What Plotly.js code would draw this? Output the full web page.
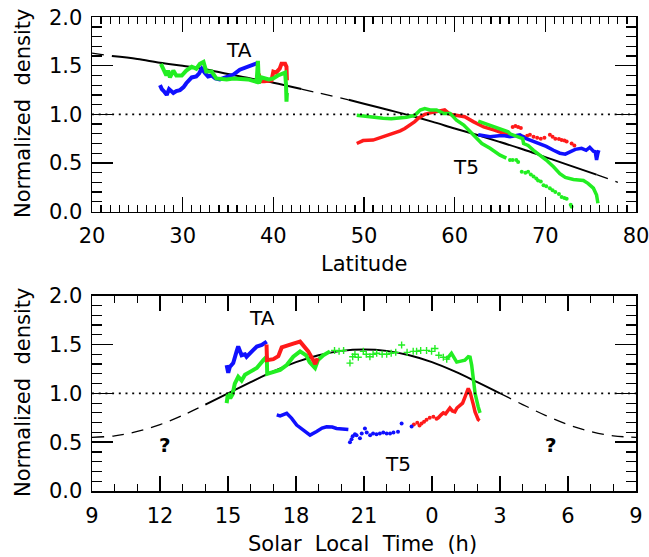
<!DOCTYPE html>
<html>
<head>
<meta charset="utf-8">
<script src="https://cdn.plot.ly/plotly-3.0.1.min.js"></script>
<style>html,body{margin:0;padding:0;background:#fff}</style>
</head>
<body>
<div id="chart" style="width:649px;height:557px"></div>
<script>
// ---------- Upper panel: density vs latitude ----------
// TA pass
const taBlueLat  = [27.5, 27.7, 28.0, 28.24, 28.5, 28.97, 29.3, 29.7, 30.1, 30.4, 31.0, 31.5, 31.8, 32.1, 32.5, 32.8, 33.2, 33.6, 34.1, 34.85, 35.6, 36.3, 37.1, 37.8, 38.3];
const taBlueVal  = [1.30, 1.26, 1.23, 1.20, 1.26, 1.22, 1.24, 1.25, 1.28, 1.32, 1.38, 1.39, 1.42, 1.47, 1.42, 1.39, 1.40, 1.37, 1.36, 1.39, 1.41, 1.46, 1.49, 1.51, 1.53];
const taGreenLat = [27.6, 27.9, 28.2, 28.4, 28.6, 28.97, 29.3, 29.9, 30.4, 31.0, 31.5, 31.9, 32.3, 32.6, 33.2, 33.7, 34.85, 35.6, 36.3, 37.2, 38.16, 38.3, 38.4, 38.7, 39.5, 40.0, 40.5, 41.0, 41.3, 41.4, 41.45, 41.5];
const taGreenVal = [1.52, 1.45, 1.40, 1.45, 1.38, 1.45, 1.40, 1.40, 1.45, 1.49, 1.47, 1.52, 1.54, 1.44, 1.44, 1.37, 1.36, 1.37, 1.37, 1.36, 1.335, 1.55, 1.32, 1.38, 1.36, 1.37, 1.40, 1.42, 1.43, 1.30, 1.13, 1.22];
const taRedLat   = [38.4, 38.45, 39.0, 39.8, 40.0, 40.3, 40.7, 40.9, 41.3, 41.45, 41.5];
const taRedVal   = [1.42, 1.34, 1.34, 1.35, 1.44, 1.43, 1.47, 1.52, 1.52, 1.49, 1.35];

// T5 pass
const t5RedLat   = [49.2, 49.9, 51.0, 52.1, 53.2, 54.0, 54.5, 55.1, 55.6, 56.0, 56.7, 57.3, 58.0, 58.9, 59.5, 60.2, 61.1, 62.05, 63.2, 64.3, 65.2, 65.7, 66.5];
const t5RedVal   = [0.70, 0.73, 0.735, 0.77, 0.80, 0.83, 0.855, 0.89, 0.925, 0.96, 1.00, 1.015, 1.03, 1.045, 1.00, 0.99, 0.975, 0.925, 0.87, 0.84, 0.81, 0.80, 0.77];
const t5RedDotLat = [66.4, 66.7, 67.0, 67.3, 67.6, 68.0, 68.3, 68.7, 69.1, 69.5, 69.9, 70.5, 70.8, 71.1, 71.5, 71.8, 72.1, 72.35, 72.9, 73.2];
const t5RedDotVal = [0.87, 0.88, 0.87, 0.86, 0.77, 0.78, 0.79, 0.77, 0.76, 0.75, 0.76, 0.79, 0.77, 0.75, 0.745, 0.735, 0.73, 0.72, 0.70, 0.68];
const t5GreenLat = [49.2, 50.0, 50.7, 51.5, 52.1, 53.0, 53.6, 54.7, 55.6, 56.2, 56.7, 57.3, 58.0, 58.75, 59.5, 60.2, 61.0, 61.7, 62.2, 63.0, 63.9, 65.0, 65.7];
const t5GreenVal = [0.99, 0.98, 0.97, 0.965, 0.96, 0.955, 0.96, 0.97, 0.99, 1.045, 1.06, 1.045, 1.045, 1.01, 1.01, 0.94, 0.89, 0.82, 0.77, 0.70, 0.65, 0.58, 0.55];
const t5GreenDotLat = [66.1, 66.4, 66.8, 67.0, 67.4, 67.8, 68.1, 68.4, 68.7, 69.0, 69.2, 69.5, 69.8, 70.1, 70.5, 70.8, 71.1, 71.5, 71.8, 72.1, 72.35, 72.8, 72.9];
const t5GreenDotVal = [0.53, 0.53, 0.53, 0.51, 0.41, 0.40, 0.41, 0.38, 0.36, 0.34, 0.32, 0.31, 0.27, 0.26, 0.24, 0.22, 0.20, 0.18, 0.15, 0.14, 0.13, 0.07, 0.05];
const t5GreenUpLat = [62.6, 63.9, 65.0, 65.9, 66.1, 67.0, 67.5, 67.6, 68.1, 68.7, 69.4, 70.1, 70.9, 71.6, 72.2, 73.1, 74.2, 74.7, 75.3, 75.65, 75.8];
const t5GreenUpVal = [0.93, 0.89, 0.855, 0.82, 0.80, 0.77, 0.75, 0.70, 0.68, 0.63, 0.58, 0.53, 0.46, 0.39, 0.35, 0.33, 0.32, 0.29, 0.24, 0.17, 0.085];
const t5BlueLat  = [62.6, 63.2, 63.9, 64.9, 65.5, 66.1, 66.7, 67.2, 67.9, 68.7, 69.4, 70.1, 70.9, 71.6, 72.2, 72.7, 73.3, 74.0, 74.5, 74.9, 75.3, 75.5, 75.65, 75.8, 75.9];
const t5BlueVal  = [0.79, 0.78, 0.77, 0.78, 0.78, 0.77, 0.78, 0.79, 0.75, 0.72, 0.70, 0.67, 0.63, 0.60, 0.59, 0.615, 0.64, 0.65, 0.63, 0.66, 0.62, 0.615, 0.53, 0.60, 0.63];

// Model curve vs latitude
const fitLat = [20, 22.2, 25, 27.5, 30, 32.5, 35, 37.5, 40, 43.1, 45, 48.3, 50, 52.5, 55, 57.5, 60, 62.5, 65, 67.5, 70, 72.5, 75.65, 78];
const fitLatVal = [1.63, 1.60, 1.57, 1.53, 1.50, 1.465, 1.415, 1.37, 1.325, 1.26, 1.22, 1.15, 1.11, 1.05, 0.99, 0.925, 0.855, 0.787, 0.715, 0.64, 0.56, 0.48, 0.38, 0.30];
const latSolid = [[22.2, 43.1], [48.3, 75.65]];
const latDashed = [[20, 22.2], [43.1, 48.3], [75.65, 78]];

// ---------- Lower panel: density vs solar local time (h, continuing past 24) ----------
const taBlueHour = [14.94, 15.01, 15.08, 15.23, 15.38, 15.45, 15.6, 15.75, 15.82, 16.05, 16.27, 16.49, 16.71];
const taBlueSlt  = [1.29, 1.21, 1.27, 1.31, 1.43, 1.48, 1.39, 1.40, 1.375, 1.43, 1.48, 1.495, 1.53];
const taRedHour  = [16.7, 16.72, 17.0, 17.22, 17.37, 17.59, 17.88, 18.18, 18.32, 18.54, 18.76, 18.85, 18.95];
const taRedSlt   = [1.50, 1.34, 1.35, 1.38, 1.47, 1.49, 1.51, 1.53, 1.49, 1.43, 1.34, 1.30, 1.36];
const taGreenHour = [14.94, 15.0, 15.1, 15.2, 15.3, 15.45, 15.6, 15.75, 15.97, 16.27, 16.56, 16.71, 16.73, 17.0, 17.3, 17.59, 17.88, 18.18, 18.45, 18.6, 18.84, 18.97, 19.2, 19.5];
const taGreenSlt  = [0.90, 1.00, 0.95, 0.99, 1.10, 1.17, 1.13, 1.19, 1.22, 1.26, 1.34, 1.375, 1.20, 1.22, 1.24, 1.29, 1.375, 1.43, 1.39, 1.32, 1.26, 1.34, 1.39, 1.43];
const greenDotHour = [19.7, 19.9, 20.1, 20.38, 20.5, 20.6, 20.75, 20.97, 21.1, 21.26, 21.4, 21.56, 21.8, 22.0, 22.2, 22.4, 22.66, 22.9, 23.17, 23.32, 23.5, 23.76, 23.98, 24.13, 24.3, 24.5, 24.65];
const greenDotSlt  = [1.44, 1.43, 1.44, 1.31, 1.375, 1.40, 1.37, 1.43, 1.40, 1.375, 1.40, 1.41, 1.40, 1.40, 1.41, 1.42, 1.495, 1.42, 1.43, 1.43, 1.44, 1.44, 1.43, 1.46, 1.39, 1.37, 1.35];
const greenEndHour = [24.65, 24.86, 25.09, 25.3, 25.45, 25.6, 25.68, 25.75, 25.83, 25.9, 26.04, 26.12];
const greenEndSlt  = [1.35, 1.41, 1.32, 1.33, 1.34, 1.375, 1.37, 1.29, 1.14, 1.0, 0.86, 0.80];
const redDotHour = [23.2, 23.35, 23.45, 23.54, 23.65, 23.76, 23.9, 24.06, 24.2];
const redDotSlt  = [0.68, 0.70, 0.67, 0.69, 0.71, 0.73, 0.75, 0.76, 0.74];
const t5RedHour = [24.2, 24.28, 24.4, 24.5, 24.6, 24.79, 24.9, 25.01, 25.1, 25.23, 25.35, 25.45, 25.55, 25.6, 25.68, 25.75, 25.83, 25.9, 25.97, 26.04, 26.1];
const t5RedSlt  = [0.74, 0.75, 0.78, 0.80, 0.79, 0.85, 0.82, 0.81, 0.85, 0.88, 0.90, 0.96, 1.02, 1.05, 1.01, 0.96, 0.88, 0.81, 0.76, 0.73, 0.72];
const t5BlueHour = [17.15, 17.3, 17.59, 17.81, 18.03, 18.25, 18.45, 18.62, 18.91, 19.15, 19.35, 19.6, 19.79, 20.05, 20.31];
const t5BlueSlt  = [0.78, 0.77, 0.795, 0.744, 0.675, 0.635, 0.60, 0.573, 0.61, 0.645, 0.658, 0.655, 0.641, 0.635, 0.63];
const blueDotHour = [20.38, 20.45, 20.5, 20.6, 20.67, 20.82, 20.9, 21.04, 21.12, 21.27, 21.4, 21.55, 21.7, 21.85, 22.0, 22.15, 22.3, 22.5, 22.66, 23.1];
const blueDotSlt  = [0.50, 0.53, 0.56, 0.58, 0.57, 0.54, 0.59, 0.64, 0.60, 0.57, 0.59, 0.58, 0.59, 0.60, 0.59, 0.59, 0.60, 0.607, 0.69, 0.66];

// Model curve vs local time
const fitHour = [9, 10, 11, 12, 13, 14, 15, 16, 17, 18, 19, 20, 21, 22, 23, 24, 25, 26, 27, 28, 29, 30, 31, 32, 33];
const fitHourVal = [0.55, 0.565, 0.61, 0.68, 0.775, 0.885, 1.0, 1.115, 1.225, 1.32, 1.39, 1.435, 1.45, 1.435, 1.39, 1.32, 1.225, 1.115, 1.0, 0.885, 0.775, 0.68, 0.61, 0.565, 0.55];
const hourSolid = [[14, 27]];
const hourDashed = [[9, 14], [27, 33]];

const sltTickVals = [9, 12, 15, 18, 21, 24, 27, 30, 33];
const sltTickText = ['9', '12', '15', '18', '21', '0', '3', '6', '9'];

// ---------- styling ----------
const RED = '#ff1a1a', GREEN = '#22ee22', BLUE = '#1010ff';
const FONT = 'DejaVu Sans';
const W = 649, H = 557;

function clip(xs, ys, lo, hi) {
  const x = [], y = [];
  xs.forEach((v, i) => { if (v >= lo - 1e-9 && v <= hi + 1e-9) { x.push(v); y.push(ys[i]); } });
  return {x, y};
}
function ribbon(x, y, color, xa, ya, width) {
  return {x, y, xaxis: xa, yaxis: ya, type: 'scatter', mode: 'lines',
          line: {color, width: width || 4}, hoverinfo: 'skip', showlegend: false};
}
function dots(x, y, color, xa, ya, symbol) {
  return {x, y, xaxis: xa, yaxis: ya, type: 'scatter', mode: 'markers',
          marker: symbol === 'cross' ?
            {symbol: 'cross-thin', size: 5, color, line: {color, width: 1.4}} :
            {symbol: 'circle', size: 4, color},
          hoverinfo: 'skip', showlegend: false};
}
function fitTraces(xs, ys, solid, dashed, xa, ya) {
  const out = [];
  solid.forEach(([a, b]) => {
    const s = clip(xs, ys, a, b);
    out.push({x: s.x, y: s.y, xaxis: xa, yaxis: ya, type: 'scatter', mode: 'lines',
              line: {color: '#000', width: 2, shape: 'spline'}, hoverinfo: 'skip', showlegend: false});
  });
  dashed.forEach(([a, b]) => {
    const s = clip(xs, ys, a, b);
    out.push({x: s.x, y: s.y, xaxis: xa, yaxis: ya, type: 'scatter', mode: 'lines',
              line: {color: '#000', width: 1.3, dash: '12px,8px', shape: 'spline'}, hoverinfo: 'skip', showlegend: false});
  });
  return out;
}

const traces = [
  // upper panel
  ...fitTraces(fitLat, fitLatVal, latSolid, latDashed, 'x', 'y'),
  ribbon(taBlueLat, taBlueVal, BLUE, 'x', 'y'),
  ribbon(taRedLat, taRedVal, RED, 'x', 'y'),
  ribbon(taGreenLat, taGreenVal, GREEN, 'x', 'y'),
  ribbon(t5RedLat, t5RedVal, RED, 'x', 'y', 3.5),
  dots(t5RedDotLat, t5RedDotVal, RED, 'x', 'y'),
  ribbon(t5BlueLat, t5BlueVal, BLUE, 'x', 'y', 3.5),
  ribbon(t5GreenLat, t5GreenVal, GREEN, 'x', 'y', 3.5),
  dots(t5GreenDotLat, t5GreenDotVal, GREEN, 'x', 'y'),
  ribbon(t5GreenUpLat, t5GreenUpVal, GREEN, 'x', 'y', 3.5),
  // lower panel
  ...fitTraces(fitHour, fitHourVal, hourSolid, hourDashed, 'x2', 'y2'),
  ribbon(taBlueHour, taBlueSlt, BLUE, 'x2', 'y2'),
  ribbon(taGreenHour, taGreenSlt, GREEN, 'x2', 'y2'),
  ribbon(taRedHour, taRedSlt, RED, 'x2', 'y2'),
  dots(greenDotHour, greenDotSlt, GREEN, 'x2', 'y2', 'cross'),
  ribbon(greenEndHour, greenEndSlt, GREEN, 'x2', 'y2', 3.5),
  dots(redDotHour, redDotSlt, RED, 'x2', 'y2'),
  ribbon(t5RedHour, t5RedSlt, RED, 'x2', 'y2', 3.5),
  ribbon(t5BlueHour, t5BlueSlt, BLUE, 'x2', 'y2', 3.5),
  dots(blueDotHour, blueDotSlt, BLUE, 'x2', 'y2')
];

const tickFont = {family: FONT, size: 21, color: '#000'};
function xAxis(extra) {
  return Object.assign({
    domain: [92 / W, 636 / W], showgrid: false, zeroline: false,
    showline: true, linecolor: '#000', linewidth: 1.5, mirror: 'allticks',
    ticks: 'inside', ticklen: 15, tickwidth: 1.4, tickcolor: '#000',
    tickfont: tickFont, ticklabelstandoff: 5, ticklabeloverflow: 'allow', fixedrange: true
  }, extra);
}
function yAxis(extra) {
  return Object.assign({
    range: [0, 2], tick0: 0, dtick: 0.5, tickformat: '.1f',
    showgrid: false, zeroline: false,
    showline: true, linecolor: '#000', linewidth: 1.5, mirror: 'allticks',
    ticks: 'inside', ticklen: 21, tickwidth: 1.4, tickcolor: '#000',
    minor: {dtick: 0.1, ticklen: 10, tickwidth: 1.2, tickcolor: '#000', ticks: 'inside'},
    tickfont: tickFont, ticklabelstandoff: 4, ticklabeloverflow: 'allow', fixedrange: true
  }, extra);
}

const px = (x) => x / W;
const py = (y) => 1 - y / H;
const titleFont = {family: FONT, size: 21, color: '#000'};
const labelFont = {family: FONT, size: 20, color: '#000'};
function paperText(text, x, y, extra) {
  return Object.assign({text, xref: 'paper', yref: 'paper', x: px(x), y: py(y),
    xanchor: 'center', yanchor: 'middle', showarrow: false, font: titleFont}, extra || {});
}
function dataText(text, xr, yr, x, y) {
  return {text, xref: xr, yref: yr, x, y, xanchor: 'center', yanchor: 'middle',
          showarrow: false, font: labelFont};
}

const layout = {
  width: W, height: H, autosize: false,
  margin: {l: 0, r: 0, t: 0, b: 0},
  paper_bgcolor: '#fff', plot_bgcolor: '#fff',
  showlegend: false,
  xaxis: xAxis({anchor: 'y', range: [20, 80], tick0: 20, dtick: 10,
                minor: {dtick: 1, ticklen: 7, tickwidth: 1.2, tickcolor: '#000', ticks: 'inside'}}),
  yaxis: yAxis({anchor: 'x', domain: [py(211.5), py(17.2)]}),
  xaxis2: xAxis({anchor: 'y2', range: [9, 33], tickmode: 'array',
                 tickvals: sltTickVals, ticktext: sltTickText,
                 minor: {tickmode: 'linear', tick0: 9, dtick: 1, ticklen: 7, tickwidth: 1.2, tickcolor: '#000', ticks: 'inside'}}),
  yaxis2: yAxis({anchor: 'x2', domain: [py(491), py(295.7)]}),
  shapes: [
    {type: 'line', xref: 'x domain', yref: 'y', x0: 0, x1: 1, y0: 1, y1: 1,
     line: {color: '#000', width: 1.6, dash: '2px,4.7px'}},
    {type: 'line', xref: 'x2 domain', yref: 'y2', x0: 0, x1: 1, y0: 1, y1: 1,
     line: {color: '#000', width: 1.6, dash: '2px,4.7px'}}
  ],
  annotations: [
    paperText('Latitude', 364, 264),
    paperText('Solar&nbsp; Local&nbsp; Time&nbsp; (h)', 363, 544),
    paperText('Normalized&nbsp; density', 23, 114, {textangle: -90}),
    paperText('Normalized&nbsp; density', 23, 393, {textangle: -90}),
    dataText('TA', 'x', 'y', 36.2, 1.667),
    dataText('T5', 'x', 'y', 61.3, 0.46),
    dataText('TA', 'x2', 'y2', 16.52, 1.77),
    dataText('T5', 'x2', 'y2', 22.5, 0.276),
    dataText('<b>?</b>', 'x2', 'y2', 12.24, 0.47),
    dataText('<b>?</b>', 'x2', 'y2', 29.25, 0.47)
  ]
};

Plotly.newPlot('chart', traces, layout, {staticPlot: true, displayModeBar: false});
</script>
</body>
</html>
